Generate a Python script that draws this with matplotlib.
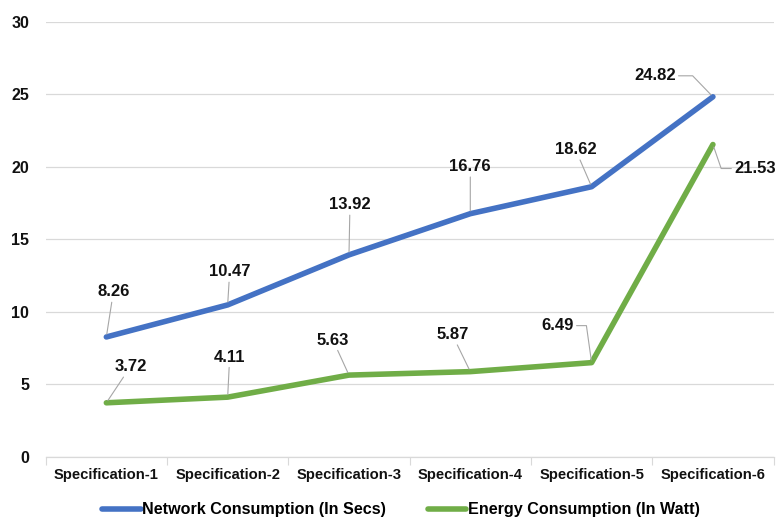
import matplotlib

matplotlib.use("Agg")
import matplotlib.pyplot as plt

plt.rcParams["font.family"] = ["Liberation Sans", "DejaVu Sans"]
plt.rcParams["font.weight"] = "bold"

categories = ["Specification-1", "Specification-2", "Specification-3",
              "Specification-4", "Specification-5", "Specification-6"]
network = [8.26, 10.47, 13.92, 16.76, 18.62, 24.82]
energy = [3.72, 4.11, 5.63, 5.87, 6.49, 21.53]
series_names = ["Network Consumption (In Secs)", "Energy Consumption (In Watt)"]
y_ticks = [0, 5, 10, 15, 20, 25, 30]

BLUE = "#4472C4"
GREEN = "#70AD47"
LEADER = "#A6A6A6"
TXT = "#111111"

# label offsets in pixels from each point, plus leader style
net_offsets = [(7, 45), (2, 33), (1, 50), (0, 47), (-16, 37), (-58, 21)]
net_conn = [None, None, None, None, None, "angle,angleA=0,angleB=134,rad=0"]
eng_offsets = [(24, 36), (2, 40), (-16, 35), (-18, 37), (-34, 37), (42, -24)]
eng_conn = [None, None, None, None, "angle,angleA=0,angleB=98,rad=0",
            "angle,angleA=0,angleB=-71,rad=0"]

fig = plt.figure(figsize=(7.81, 5.25), dpi=100)
ax = fig.add_axes([0.0585, 0.130, 0.932, 0.8287])

x = list(range(len(categories)))
l1, = ax.plot(x, network, color=BLUE, lw=4.0, solid_joinstyle="round",
              solid_capstyle="round", zorder=3)
l2, = ax.plot(x, energy, color=GREEN, lw=4.0, solid_joinstyle="round",
              solid_capstyle="round", zorder=3)


def label(vals, offsets, conns):
    for xi, v, off, cs in zip(x, vals, offsets, conns):
        ax.annotate(f"{v:.2f}", (xi, v), xytext=off, textcoords="offset pixels",
                    ha="center", va="center", fontsize=12, fontweight="bold",
                    color=TXT, zorder=4,
                    arrowprops=dict(arrowstyle="-", color=LEADER, lw=0.8,
                                    shrinkA=0, shrinkB=2,
                                    connectionstyle=cs or "arc3"))


label(network, net_offsets, net_conn)
label(energy, eng_offsets, eng_conn)

ax.set_xlim(-0.5, len(categories) - 0.5)
ax.set_ylim(0, 30)
ax.set_yticks(y_ticks)
ax.set_yticklabels([str(t) for t in y_ticks], fontsize=11.5, fontweight="bold",
                   color=TXT)
ax.set_xticks(x)
ax.set_xticklabels(categories, fontsize=10.6, fontweight="bold", color=TXT)
ax.set_xticks([i - 0.5 for i in range(len(categories) + 1)], minor=True)
ax.tick_params(axis="x", which="major", length=0, pad=8)
ax.tick_params(axis="x", which="minor", length=6, color="#D9D9D9", width=0.8)
ax.tick_params(axis="y", length=0, pad=12)

ax.grid(axis="y", color="#D9D9D9", lw=0.9)
ax.set_axisbelow(True)
for side in ["top", "right", "left"]:
    ax.spines[side].set_visible(False)
ax.spines["bottom"].set_color("#D9D9D9")
ax.spines["bottom"].set_linewidth(0.9)

fig.legend([l1, l2], series_names, loc="center", bbox_to_anchor=(0.513, 0.029),
           ncol=2, frameon=False, handlelength=2.4, handletextpad=0.08,
           columnspacing=2.6, prop={"size": 11.6, "weight": "bold"})

fig.savefig("out.png", dpi=100)
